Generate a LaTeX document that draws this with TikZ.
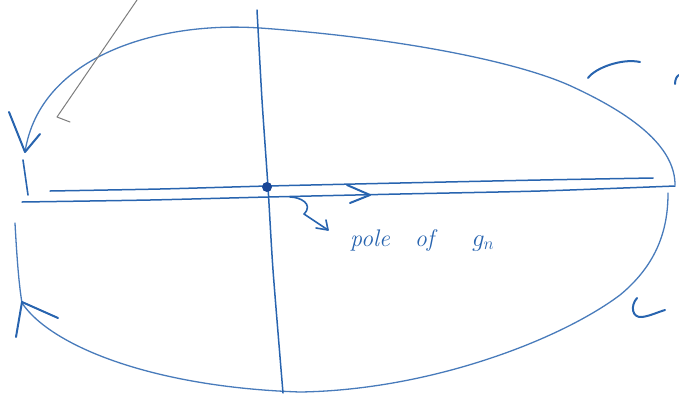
\documentclass[tikz,border=0pt]{standalone}
\usepackage{tikz}
\usetikzlibrary{arrows.meta,positioning}
\definecolor{penblue}{RGB}{40,100,175}
\definecolor{inkblue}{RGB}{25,70,150}
\definecolor{pencilgray}{RGB}{125,125,125}

\begin{document}
\begin{tikzpicture}[
  x=1pt,y=-1pt,
  >=Latex,
  contour/.style={draw=penblue!85,line width=1.3pt,line cap=round,line join=round},
  axisline/.style={draw=penblue,line width=1.5pt,line cap=round},
  pen/.style={draw=penblue,line width=2pt,line cap=round,line join=round},
  pointer/.style={draw=pencilgray,line width=1pt,line cap=round,line join=round},
  handtext/.style={text=penblue,font=\fontsize{24}{28}\selectfont\itshape,inner sep=0pt,anchor=base west}
]
  \useasboundingbox (0,0) rectangle (679,402);

  % upper half of the contour
  \draw[contour] (675,185) .. controls (675,150) and (640,118) .. (573,87)
    .. controls (520,62) and (400,38) .. (260,28)
    .. controls (160,21) and (40,55) .. (25,152);
  % lower half of the contour
  \draw[contour] (15,223) .. controls (17,260) and (19,285) .. (22,303)
    .. controls (50,345) and (150,387) .. (300,392)
    .. controls (430,390) and (560,340) .. (620,295)
    .. controls (660,262) and (668,225) .. (668,193);
  \draw[pen,line width=1.6pt] (23,160) -- (28,195);

  % arrow heads on the contour
  \draw[pen] (9,112) -- (25,152) -- (40,134);
  \draw[pen] (16,337) -- (22,302) -- (58,318);

  % the two edges along the real axis
  \draw[axisline] plot[smooth,tension=0.4] coordinates {(50,191) (160,189) (268,186) (400,183) (540,180) (653,178)};
  \draw[axisline] plot[smooth,tension=0.4] coordinates {(22,202) (150,200) (268,197) (400,194) (540,191) (675,186)};
  \draw[pen] (347,185) -- (370,195) -- (350,203);

  % imaginary axis
  \draw[axisline] plot[smooth,tension=0.4] coordinates {(257,10) (262,100) (268,187) (273,270) (283,393)};

  % pole
  \node[circle,fill=inkblue,inner sep=0pt,minimum size=10pt] (pole) at (267,187) {};
  \node[handtext] (polelabel) at (350,246) {pole\hspace{25pt}of\hspace{38pt}$g_n$};
  \coordinate (squigstart) at (290,197);
  \coordinate (squigtip) at (328,230);
  \draw[pen,line width=1.6pt] (squigstart) .. controls (300,197) and (314,204) .. (304,214)
    -- (squigtip);
  \draw[pen,line width=1.6pt] (326,220) -- (squigtip) -- (316,228);

  % bits of the big arcs
  \draw[pen] (588,78) .. controls (595,68) and (622,58) .. (640,62);
  \draw[pen] (675,84) .. controls (675,79) and (677,76) .. (679,75);
  \draw[pen] (637,298) .. controls (630,306) and (632,318) .. (642,317) .. controls (650,316) and (658,312) .. (665,310);

  % pencil pointer
  \coordinate (pointtip) at (57,117);
  \draw[pointer] (137,0) -- (pointtip) -- (70,122);
\end{tikzpicture}
\end{document}
